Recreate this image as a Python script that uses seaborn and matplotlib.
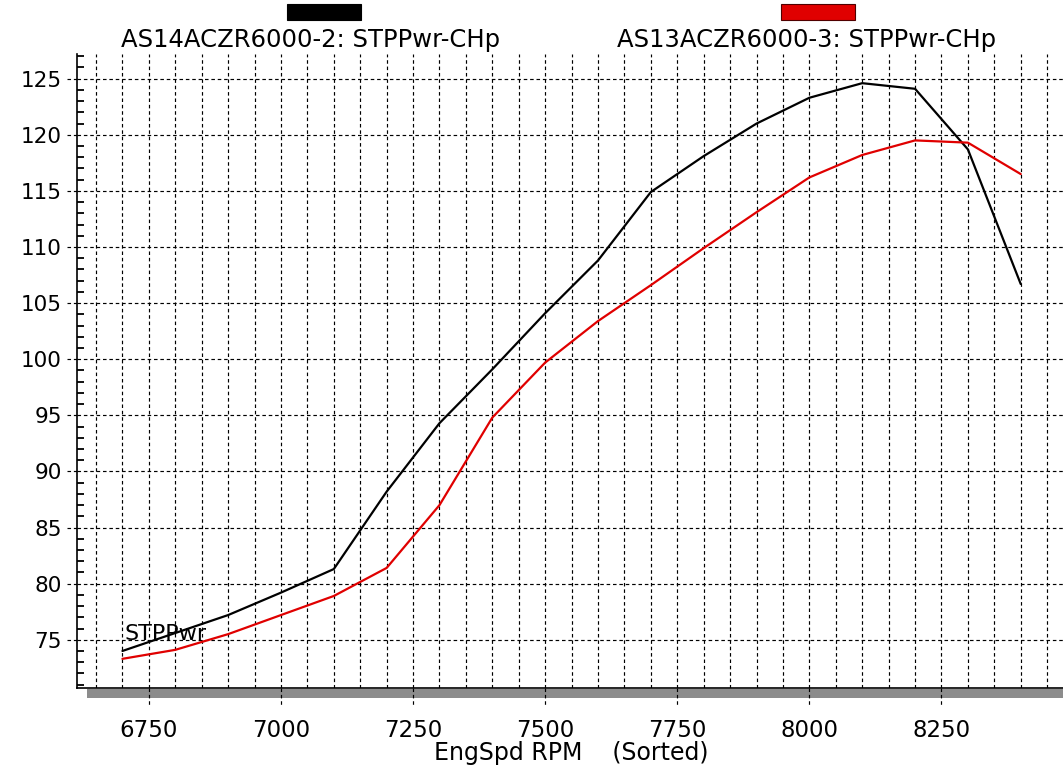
import numpy as np
import pandas as pd
import matplotlib
matplotlib.use("Agg")
import matplotlib.pyplot as plt
import matplotlib.transforms as mtransforms
from matplotlib.patches import Rectangle
from matplotlib.ticker import MultipleLocator
import seaborn as sns

# ---------------- data ----------------
rpm = [6700, 6800, 6900, 7000, 7100, 7200, 7300, 7400, 7500,
       7600, 7700, 7800, 7900, 8000, 8100, 8200, 8300, 8400]
run_a = [74.0, 75.6, 77.2, 79.2, 81.3, 88.2, 94.3, 99.1, 104.1,
         108.8, 114.9, 118.1, 121.0, 123.3, 124.6, 124.1, 118.7, 106.7]
run_b = [73.3, 74.1, 75.5, 77.2, 78.9, 81.4, 87.0, 94.8, 99.7,
         103.4, 106.6, 109.9, 113.1, 116.2, 118.2, 119.5, 119.3, 116.5]
series_names = ["AS14ACZR6000-2: STPPwr-CHp", "AS13ACZR6000-3: STPPwr-CHp"]
series_colors = ["#000000", "#e00000"]
x_ticks = [6750, 7000, 7250, 7500, 7750, 8000, 8250]
y_ticks = [75, 80, 85, 90, 95, 100, 105, 110, 115, 120, 125]
x_label = "EngSpd RPM    (Sorted)"
channel_label = "STPPwr"

df = pd.DataFrame({
    "rpm": rpm * 2,
    "power": run_a + run_b,
    "series": [series_names[0]] * len(rpm) + [series_names[1]] * len(rpm),
})

# ---------------- figure ----------------
sns.set_theme(style="white")
plt.rcParams["font.family"] = ["DejaVu Sans"]
plt.rcParams["text.color"] = "black"
plt.rcParams["axes.labelcolor"] = "black"

W, H = 1063, 771
fig = plt.figure(figsize=(W / 100, H / 100), dpi=100)
ax = fig.add_axes([77 / W, (H - 688) / H, 1 - 77 / W, (688 - 54) / H])

sns.lineplot(data=df, x="rpm", y="power", hue="series",
             palette=dict(zip(series_names, series_colors)),
             linewidth=1.6, legend=False, ax=ax, zorder=5)

ax.set_xlim(6614, 8480)
ax.set_ylim(70.7, 127.2)
ax.set_xticks(x_ticks)
ax.set_yticks(y_ticks)
ax.xaxis.set_minor_locator(MultipleLocator(50))
ax.yaxis.set_minor_locator(MultipleLocator(1))

dash = (0, (3, 2.4))
ax.grid(False)
for xv in np.arange(6650, 8480, 50):
    ax.axvline(xv, color="black", lw=0.85, ls=dash, zorder=1)
for yv in y_ticks:
    ax.axhline(yv, color="black", lw=0.85, ls=dash, zorder=1)

# extensions of the major grid lines outside the plotting area
tx = mtransforms.blended_transform_factory(ax.transData, ax.transAxes)
ty = mtransforms.blended_transform_factory(ax.transAxes, ax.transData)
for xv in x_ticks:
    ax.plot([xv, xv], [0, -17 / 634], color="black", lw=0.85, ls=dash,
            transform=tx, clip_on=False, zorder=1)
for yv in y_ticks:
    ax.plot([-10 / 986, 0], [yv, yv], color="black", lw=0.85, ls=dash,
            transform=ty, clip_on=False, zorder=1)

# grey shadow bar under the x axis
ax.add_patch(Rectangle((10 / 986, -10 / 634), 1.0, 9 / 634, transform=ax.transAxes,
                       facecolor="#8c8c8c", edgecolor="none", clip_on=False, zorder=0))

for s in ["top", "right"]:
    ax.spines[s].set_visible(False)
for s in ["left", "bottom"]:
    ax.spines[s].set_color("black")
    ax.spines[s].set_linewidth(1.2)
    ax.spines[s].set_zorder(6)

ax.tick_params(axis="both", which="major", length=0, colors="black")
ax.tick_params(axis="x", which="major", labelsize=16.5, pad=22)
ax.tick_params(axis="y", which="major", labelsize=15.5, pad=11)
ax.tick_params(axis="y", which="minor", direction="in", length=5, width=1.3,
               left=True, color="black")
ax.tick_params(axis="x", which="minor", length=0)

ax.set_xlabel(x_label, fontsize=17, va="center", color="black")
ax.set_ylabel("")
ax.xaxis.set_label_coords((571 - 77) / 986, -(753 - 688) / 634)

ax.text(6703, 75.55, channel_label, fontsize=16, color="black",
        ha="left", va="center", zorder=7)

# top legend: swatch above label
swatch_left = [287, 781]
label_centers = [311, 807]
for name, col, sx, cx in zip(series_names, series_colors, swatch_left, label_centers):
    fig.add_artist(Rectangle((sx / W, (H - 20) / H), 74 / W, 16 / H,
                             transform=fig.transFigure, facecolor=col,
                             edgecolor="#500000" if col != "#000000" else "black", lw=0.8))
    fig.text(cx / W, (H - 40) / H, name, ha="center", va="center",
             fontsize=17.5, color="black")

fig.savefig("out.png", dpi=100, facecolor="white")
